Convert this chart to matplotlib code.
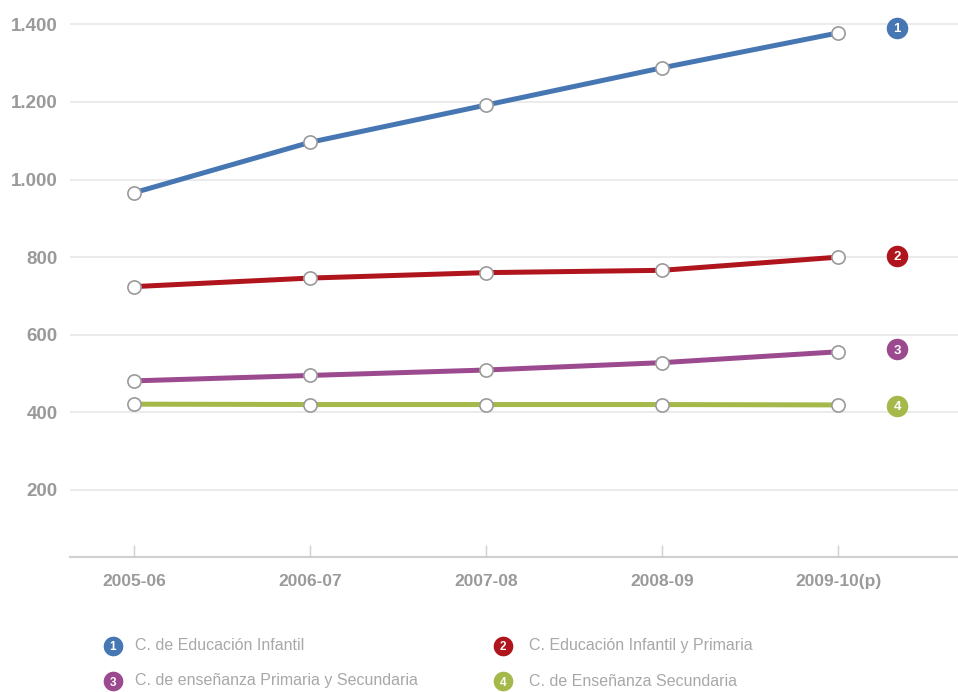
import numpy as np
import matplotlib
matplotlib.use("Agg")
import matplotlib.pyplot as plt
from matplotlib.ticker import FuncFormatter

plt.rcParams['font.family'] = ['Liberation Sans', 'DejaVu Sans']

# datos
cursos = ["2005-06", "2006-07", "2007-08", "2008-09", "2009-10(p)"]
infantil = [966, 1096, 1192, 1288, 1378]
infantil_primaria = [724, 746, 760, 766, 800]
primaria_secundaria = [481, 495, 509, 528, 556]
secundaria = [421, 420, 420, 420, 419]

series = [infantil, infantil_primaria, primaria_secundaria, secundaria]
nombres = ["C. de Educación Infantil", "C. Educación Infantil y Primaria",
           "C. de enseñanza Primaria y Secundaria", "C. de Enseñanza Secundaria"]
colores = ["#4677b3", "#b0141d", "#9c4a8f", "#a5b94a"]
badge_y = [1391, 803, 563, 417]

W, H = 958, 692
fig = plt.figure(figsize=(W / 100, H / 100), dpi=100)
ax = fig.add_axes([70 / W, (H - 557) / H, (W - 70) / W, (557 - 10) / H])

x = np.arange(len(cursos))
for vals, col in zip(series, colores):
    ax.plot(x, vals, color=col, lw=3.6, solid_capstyle="butt", zorder=3,
            marker="o", markersize=9.5, markerfacecolor="white",
            markeredgecolor="#9a9a9a", markeredgewidth=1.2)

# etiquetas numeradas a la derecha
for i, (by, col) in enumerate(zip(badge_y, colores)):
    ax.scatter([4.335], [by], s=240, color=col, zorder=4, clip_on=False, linewidths=0)
    ax.text(4.335, by, str(i + 1), color="white", fontsize=9.5, fontweight="bold",
            ha="center", va="center_baseline", zorder=5)

ax.set_xlim(-0.364, 4.68)
ax.set_ylim(27, 1437)
ax.set_yticks([200, 400, 600, 800, 1000, 1200, 1400])
ax.yaxis.set_major_formatter(FuncFormatter(lambda v, p: f"{int(v):,}".replace(",", ".")))
ax.grid(axis="y", color="#e8e8e8", lw=1.2)
ax.set_axisbelow(True)
ax.set_xticks(x)
ax.set_xticklabels(cursos)
for s in ["top", "right", "left"]:
    ax.spines[s].set_visible(False)
ax.spines["bottom"].set_color("#d0d0d0")
ax.spines["bottom"].set_linewidth(1.5)
ax.tick_params(axis="y", length=0, pad=9, labelsize=13.5, labelcolor="#9a9a9a")
ax.tick_params(axis="x", direction="in", length=9, color="#d0d0d0", width=1,
               pad=12, labelsize=12.5, labelcolor="#9a9a9a")
for lab in ax.get_xticklabels() + ax.get_yticklabels():
    lab.set_fontweight("bold")

# leyenda
lax = fig.add_axes([0, 0, 1, 1])
lax.set_xlim(0, W)
lax.set_ylim(H, 0)
lax.axis("off")
pos = [(112.7, 645.5, 135), (502.7, 645.5, 529), (112.7, 681, 135), (502.7, 681, 529)]
for i, ((px, py, tx), nom, col) in enumerate(zip(pos, nombres, colores)):
    lax.scatter([px], [py], s=200, color=col, linewidths=0)
    lax.text(px, py, str(i + 1), color="white", fontsize=8.5, fontweight="bold",
             ha="center", va="center_baseline")
    lax.text(tx, py, nom, color="#a8a8a8", fontsize=11.5, ha="left", va="center")

fig.savefig("out.png", dpi=100)
